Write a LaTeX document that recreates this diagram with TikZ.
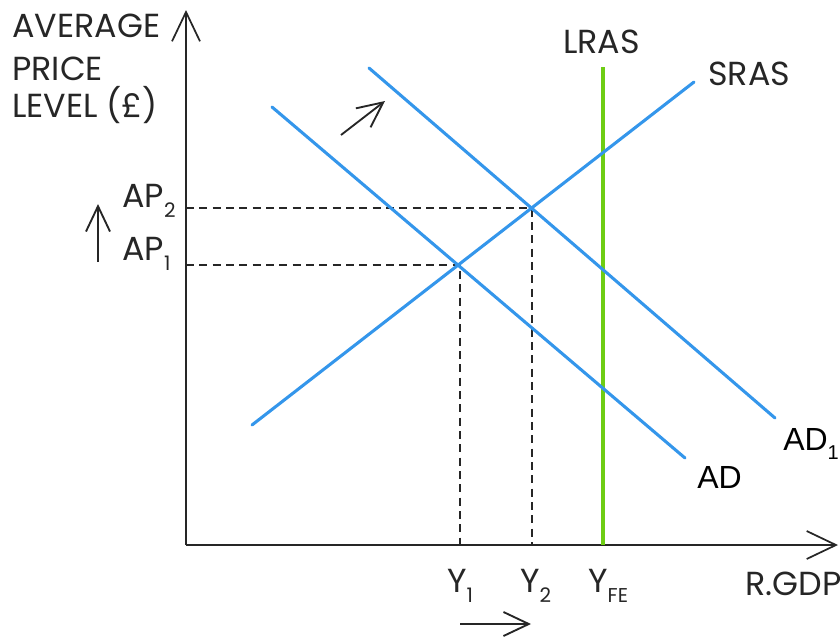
\documentclass[tikz,border=0pt]{standalone}
\usepackage{fontspec}
\setmainfont{Poppins}
\newfontfamily\arialf{Liberation Sans}
\usetikzlibrary{arrows.meta}
\definecolor{curveblue}{RGB}{52,150,235}
\definecolor{lrasgreen}{RGB}{110,205,20}
\newcommand{\lowidx}[1]{\raisebox{-0.3em}{\fontsize{15}{15}\selectfont #1}}
\tikzset{
  axisline/.style={line width=1.5pt, draw=black!85, -{Straight Barb[length=22pt,width=21pt,line width=1.3pt]}},
  curve/.style={line width=2.3pt, draw=curveblue, line cap=round},
  lras/.style={line width=2.5pt, draw=lrasgreen},
  guide/.style={line width=1.2pt, dash pattern=on 6pt off 4pt, draw=black!85},
  moveArrow/.style={line width=1.4pt, draw=black!85, -{Straight Barb[length=19pt,width=18pt,line width=1.4pt]}},
  lbl/.style={inner sep=0pt, font=\fontsize{25}{28}\selectfont, text=black!85},
  albl/.style={inner sep=0pt, font=\arialf\fontsize{24}{26}\selectfont, text=black},
}
\begin{document}
\begin{tikzpicture}[x=0.75pt,y=-0.75pt]
\useasboundingbox (0,0) rectangle (840,637);
% coordinates
\coordinate (O) at (186,545);
\coordinate (ytop) at (186,10);
\coordinate (xend) at (838,545);
\coordinate (lrasT) at (603,67);
\coordinate (lrasB) at (603,545);
\coordinate (srasA) at (252,425);
\coordinate (srasB) at (694,82);
\coordinate (adA) at (272,107);
\coordinate (adB) at (685,458);
\coordinate (ad1A) at (369,68);
\coordinate (ad1B) at (775,418);
\coordinate (e1) at (460,265);
\coordinate (e2) at (532,208);
\coordinate (ap1) at (186,265);
\coordinate (ap2) at (186,208);
\coordinate (y1) at (460,545);
\coordinate (y2) at (532,545);
% guides
\draw[guide] (ap2) -- (e2) -- (y2);
\draw[guide] (ap1) -- (e1) -- (y1);
% axes
\draw[axisline] (O) -- (ytop);
\draw[axisline] (O) -- (xend);
% curves
\draw[lras] (lrasT) -- (lrasB);
\draw[curve] (srasA) -- (srasB);
\draw[curve] (adA) -- (adB);
\draw[curve] (ad1A) -- (ad1B);
% shift arrows
\coordinate (uA) at (98,262); \coordinate (uB) at (98,204);
\draw[moveArrow] (uA) -- (uB);
\coordinate (rA) at (460,624); \coordinate (rB) at (531,624);
\draw[moveArrow] (rA) -- (rB);
\coordinate (dA) at (341,135); \coordinate (dB) at (385,101);
\draw[moveArrow] (dA) -- (dB);
% labels
\node[lbl, anchor=base west] (t1) at (12,37) {AVERAGE};
\node[lbl, anchor=base west] (t2) at (12,80) {PRICE};
\node[lbl, anchor=base west] (t3) at (12,117) {LEVEL (£)};
\node[lbl, anchor=base west] (lrasL) at (563,53) {LRAS};
\node[lbl, anchor=base west] (srasL) at (708,85) {SRAS};
\node[lbl, anchor=base west] (ap2L) at (122,207) {AP\lowidx{2}};
\node[lbl, anchor=base west] (ap1L) at (122,260) {AP\lowidx{1}};
\node[lbl, anchor=base west] (y1L) at (447,592) {Y\lowidx{1}};
\node[lbl, anchor=base west] (y2L) at (520,592) {Y\lowidx{2}};
\node[lbl, anchor=base west] (yfeL) at (588,592) {Y\lowidx{FE}};
\node[lbl, anchor=base west] (gdpL) at (745,595) {R.GDP};
\node[albl, anchor=base west] (ad1L) at (783,450) {AD\lowidx{1}};
\node[albl, anchor=base west] (adL) at (697,488) {AD};
\end{tikzpicture}
\end{document}
